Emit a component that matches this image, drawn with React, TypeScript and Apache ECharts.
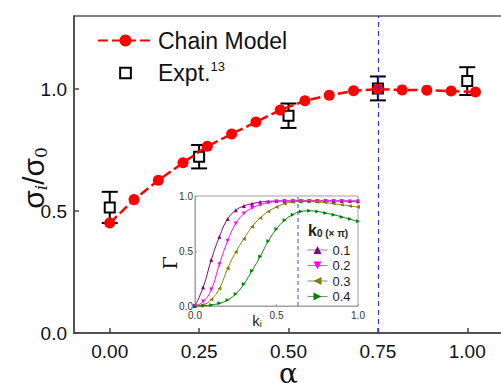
import React, { useEffect, useRef } from 'react';
import * as echarts from 'echarts';

// ---- main panel data ----
const chainAlpha = [0, 0.068, 0.136, 0.205, 0.273, 0.341, 0.409, 0.477, 0.546, 0.614, 0.682, 0.75, 0.818, 0.887, 0.955, 1.023];
const chainSigma = [0.451, 0.547, 0.626, 0.698, 0.766, 0.816, 0.865, 0.914, 0.952, 0.975, 0.993, 1.0, 0.997, 0.996, 0.992, 0.988];
const exptAlpha = [0, 0.25, 0.5, 0.75, 1.0];
const exptSigma = [0.515, 0.723, 0.891, 1.003, 1.033];
const exptErr = [0.064, 0.048, 0.05, 0.049, 0.057];
const xTicks = [0, 0.25, 0.5, 0.75, 1.0];
const yTicks = [0, 0.5, 1.0];
const markAlpha = 0.75;

// ---- inset data ----
const insetK = [0, 0.05, 0.1, 0.15, 0.2, 0.25, 0.3, 0.35, 0.4, 0.45, 0.5, 0.55, 0.6, 0.65, 0.7, 0.75, 0.8, 0.85, 0.9, 0.95, 1.0];
const gamma01 = [0, 0.17, 0.42, 0.63, 0.79, 0.87, 0.91, 0.93, 0.945, 0.95, 0.955, 0.955, 0.955, 0.955, 0.955, 0.955, 0.955, 0.955, 0.955, 0.955, 0.955];
const gamma02 = [0, 0.04, 0.15, 0.38, 0.59, 0.75, 0.84, 0.89, 0.92, 0.94, 0.95, 0.955, 0.955, 0.955, 0.955, 0.955, 0.955, 0.955, 0.955, 0.95, 0.95];
const gamma03 = [0, 0.01, 0.06, 0.16, 0.34, 0.49, 0.61, 0.72, 0.8, 0.86, 0.9, 0.93, 0.945, 0.95, 0.95, 0.945, 0.94, 0.93, 0.92, 0.91, 0.9];
const gamma04 = [0, 0.003, 0.01, 0.025, 0.055, 0.11, 0.2, 0.32, 0.45, 0.59, 0.7, 0.78, 0.83, 0.86, 0.865, 0.86, 0.845, 0.83, 0.81, 0.79, 0.77];
const k0Labels = ['0.1', '0.2', '0.3', '0.4'];
const insetTicks = [0, 0.5, 1.0];
const insetMarkK = 0.628;

const SANS = '"Liberation Sans", Arial, sans-serif';
const SERIF = '"DejaVu Serif", "Liberation Serif", serif';

export default function App() {
  const ref = useRef<HTMLDivElement>(null);
  useEffect(() => {
    if (!ref.current) return;
    const chart = echarts.init(ref.current, null, { renderer: 'svg' });
    const gammas = [gamma01, gamma02, gamma03, gamma04];
    const colors = ['#800080', '#ff00ff', '#808000', '#008000'];
    const symbols = [
      'triangle',
      'path://M0,0L10,0L5,10Z',
      'path://M10,0L10,10L0,5Z',
      'path://M0,0L0,10L10,5Z',
    ];
    const insetSeries = gammas.map((g, idx) => ({
      type: 'line',
      name: k0Labels[idx],
      xAxisIndex: 1,
      yAxisIndex: 1,
      data: insetK.map((k, i) => [k, g[i]]),
      smooth: true,
      symbol: symbols[idx],
      symbolSize: 4,
      showAllSymbol: true,
      lineStyle: { width: 1, color: colors[idx] },
      itemStyle: { color: colors[idx] },
      z: 6,
      ...(idx === 3
        ? {
            markLine: {
              silent: true,
              symbol: 'none',
              label: { show: false },
              lineStyle: { color: '#8080ff', type: [4, 3], width: 1.5 },
              data: [{ xAxis: insetMarkK }],
            },
          }
        : {}),
    }));

    const option: any = {
      animation: false,
      backgroundColor: '#fff',
      title: {
        text: '{k|k}{s|0 (× π)}',
        left: 308,
        top: 222,
        padding: 0,
        textStyle: {
          rich: {
            k: { fontSize: 16, fontFamily: SANS, color: '#222' },
            s: { fontSize: 10, fontFamily: SANS, color: '#222', verticalAlign: 'bottom' },
          },
        },
      },
      legend: [
        {
          left: 97,
          top: 29,
          orient: 'vertical',
          padding: 0,
          itemWidth: 55,
          itemHeight: 15,
          itemGap: 8,
          selectedMode: false,
          data: ['Chain Model', { name: 'Expt.', icon: 'path://M-2,-2M12,12M0,0H10V10H0Z' }],
          formatter: (name: string) => (name === 'Expt.' ? '{n|Expt.}{sup|13}' : '{n|' + name + '}'),
          textStyle: {
            fontFamily: SANS,
            fontSize: 23,
            color: '#111',
            rich: {
              n: { fontSize: 23, fontFamily: SANS, lineHeight: 26, color: '#111' },
              sup: { fontSize: 13, fontFamily: SANS, lineHeight: 13, verticalAlign: 'top', color: '#111' },
            },
          },
        },
        {
          left: 307,
          top: 243.5,
          orient: 'vertical',
          padding: 0,
          itemWidth: 20,
          itemHeight: 10,
          itemGap: 2.5,
          selectedMode: false,
          data: k0Labels,
          lineStyle: { color: '#888', width: 1 },
          textStyle: { fontFamily: SANS, fontSize: 13, lineHeight: 13, color: '#222' },
        },
      ],
      grid: [
        { left: 74, top: 16, width: 429, height: 317, show: true, borderColor: '#555', borderWidth: 1.5, backgroundColor: 'transparent', outerBoundsMode: 'none', containLabel: false },
        { left: 195, top: 196, width: 163, height: 110, show: true, borderColor: '#a0a0a0', borderWidth: 1, backgroundColor: '#fff', outerBoundsMode: 'none', containLabel: false },
      ],
      xAxis: [
        {
          type: 'value',
          gridIndex: 0,
          min: -0.1,
          max: 1.1,
          splitLine: { show: false },
          axisLine: { onZero: false, lineStyle: { color: '#444', width: 1.5 } },
          axisTick: { inside: true, length: 5, customValues: xTicks, lineStyle: { color: '#444', width: 1.5 } },
          axisLabel: { customValues: xTicks, formatter: (v: number) => v.toFixed(2), fontSize: 19, fontFamily: SANS, color: '#111', margin: 9 },
          name: 'α',
          nameLocation: 'middle',
          nameGap: 31,
          nameMoveOverlap: false,
          nameTextStyle: { fontFamily: SERIF, fontSize: 28, lineHeight: 18, color: '#111' },
        },
        {
          type: 'value',
          gridIndex: 1,
          min: 0,
          max: 1,
          splitLine: { show: false },
          axisLine: { onZero: false, lineStyle: { color: '#a0a0a0', width: 1 } },
          axisTick: { inside: true, length: 2, customValues: insetTicks, lineStyle: { color: '#a0a0a0' } },
          axisLabel: { customValues: insetTicks, formatter: (v: number) => v.toFixed(1), fontSize: 10, fontFamily: SANS, color: '#333', margin: 4 },
          name: '{k|k}{i|i}',
          nameLocation: 'middle',
          nameGap: 7,
          nameMoveOverlap: false,
          nameTextStyle: {
            padding: [0, 39, 0, 0],
            rich: {
              k: { fontSize: 15, lineHeight: 15, fontFamily: SANS, color: '#222' },
              i: { fontSize: 9, lineHeight: 9, fontFamily: SANS, color: '#222', verticalAlign: 'bottom' },
            },
          },
        },
      ],
      yAxis: [
        {
          type: 'value',
          gridIndex: 0,
          min: 0,
          max: 1.3,
          splitLine: { show: false },
          axisLine: { onZero: false, lineStyle: { color: '#444', width: 1.5 } },
          axisTick: { inside: true, length: 5, customValues: yTicks, lineStyle: { color: '#444', width: 1.5 } },
          axisLabel: { customValues: yTicks, formatter: (v: number) => v.toFixed(1), fontSize: 19, fontFamily: SANS, color: '#111', margin: 7 },
          name: '{a|σ}{b|i}{a|/σ}{c|0}',
          nameLocation: 'middle',
          nameGap: 25,
          nameMoveOverlap: false,
          nameTextStyle: {
            padding: [0, 7, 0, 0],
            rich: {
              a: { fontSize: 30, lineHeight: 32, fontFamily: SANS, color: '#111' },
              b: { fontSize: 17, lineHeight: 17, fontFamily: SERIF, fontStyle: 'italic', color: '#111', verticalAlign: 'bottom' },
              c: { fontSize: 17, lineHeight: 17, fontFamily: SERIF, color: '#111', verticalAlign: 'bottom' },
            },
          },
        },
        {
          type: 'value',
          gridIndex: 1,
          min: 0,
          max: 1,
          splitLine: { show: false },
          axisLine: { onZero: false, lineStyle: { color: '#a0a0a0', width: 1 } },
          axisTick: { inside: true, length: 2, customValues: insetTicks, lineStyle: { color: '#a0a0a0' } },
          axisLabel: { customValues: insetTicks, formatter: (v: number) => v.toFixed(1), fontSize: 10, fontFamily: SANS, color: '#333', margin: 2 },
          name: 'Γ',
          nameLocation: 'middle',
          nameGap: 16,
          nameMoveOverlap: false,
          nameTextStyle: { fontFamily: SERIF, fontSize: 19, lineHeight: 19, color: '#111', padding: [0, 24, 0, 0] },
        },
      ],
      series: [
        {
          type: 'custom',
          name: 'err',
          xAxisIndex: 0,
          yAxisIndex: 0,
          z: 1,
          data: exptAlpha.map((a, i) => [a, exptSigma[i] - exptErr[i], exptSigma[i] + exptErr[i]]),
          encode: { x: 0, y: [1, 2] },
          renderItem: (params: any, api: any) => {
            const lo = api.coord([api.value(0), api.value(1)]);
            const hi = api.coord([api.value(0), api.value(2)]);
            const hw = 8;
            const style = { stroke: '#000', lineWidth: 2, fill: 'none' };
            return {
              type: 'group',
              children: [
                { type: 'line', shape: { x1: lo[0], y1: lo[1], x2: hi[0], y2: hi[1] }, style },
                { type: 'line', shape: { x1: lo[0] - hw, y1: lo[1], x2: lo[0] + hw, y2: lo[1] }, style },
                { type: 'line', shape: { x1: hi[0] - hw, y1: hi[1], x2: hi[0] + hw, y2: hi[1] }, style },
              ],
            };
          },
        },
        {
          type: 'scatter',
          name: 'Expt.',
          xAxisIndex: 0,
          yAxisIndex: 0,
          z: 2,
          symbol: 'rect',
          symbolSize: 10,
          data: exptAlpha.map((a, i) => [a, exptSigma[i]]),
          itemStyle: { color: '#fff', borderColor: '#000', borderWidth: 2, opacity: 1 },
        },
        {
          type: 'line',
          name: 'Chain Model',
          xAxisIndex: 0,
          yAxisIndex: 0,
          z: 3,
          data: chainAlpha.map((a, i) => [a, chainSigma[i]]),
          symbol: 'circle',
          symbolSize: 11,
          lineStyle: { color: '#ff0000', width: 2.5, type: [10, 4] },
          itemStyle: { color: '#ff0000' },
          markLine: {
            silent: true,
            symbol: 'none',
            label: { show: false },
            lineStyle: { color: '#2b2bff', type: [5, 4], width: 1.2, opacity: 1 },
            data: [{ xAxis: markAlpha }],
          },
        },
        ...insetSeries,
      ],
    };
    chart.setOption(option);
    return () => chart.dispose();
  }, []);
  return <div ref={ref} style={{ position: 'absolute', left: 0, top: 0, width: 501, height: 383 }} />;
}
